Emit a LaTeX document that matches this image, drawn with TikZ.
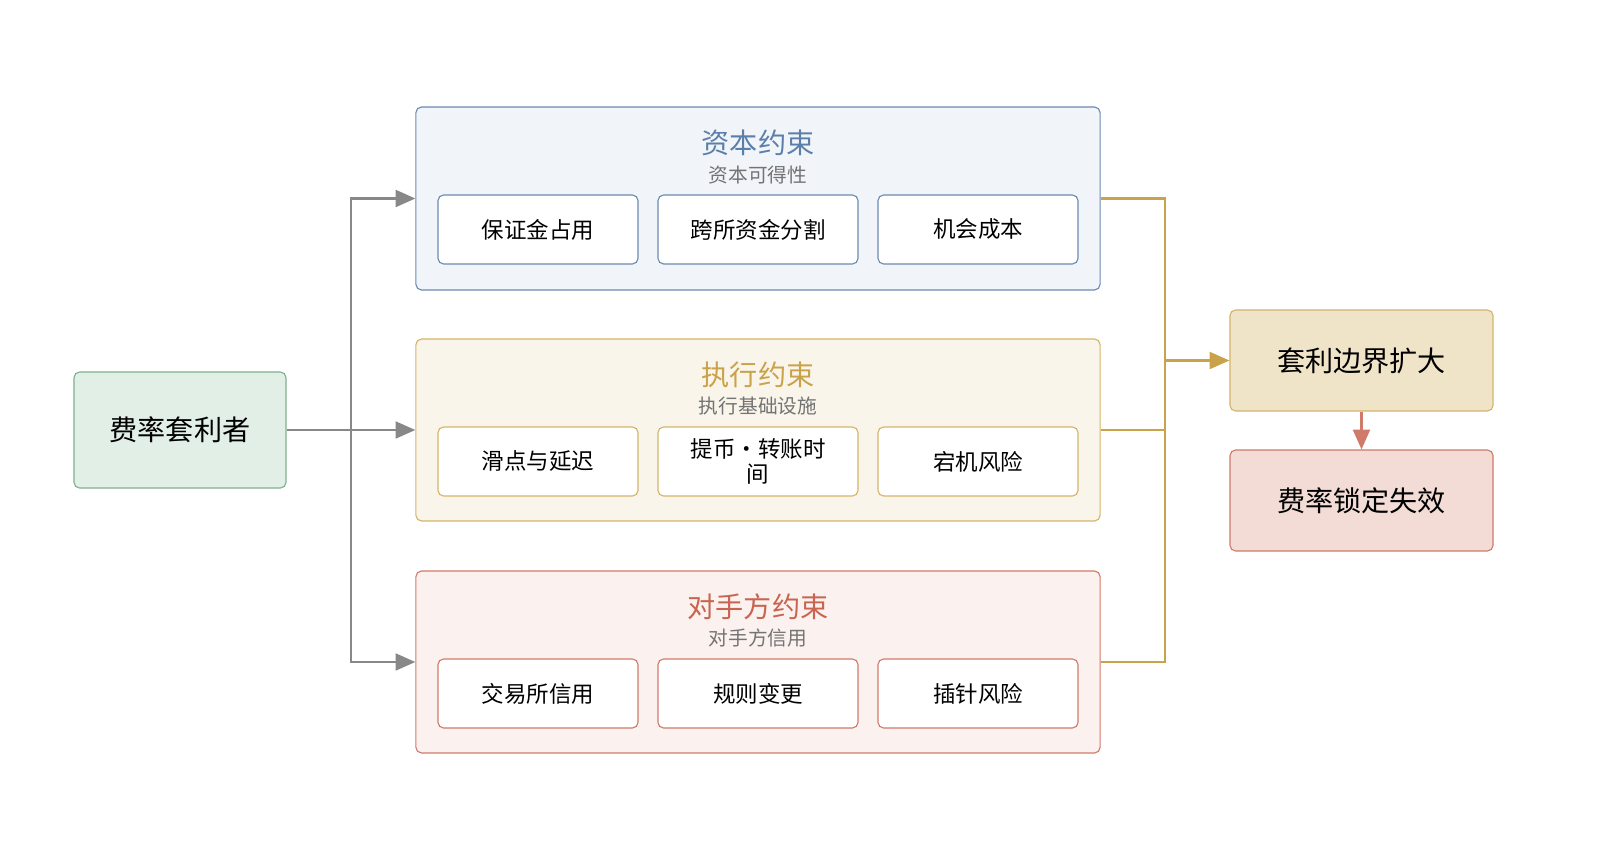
\documentclass[tikz,border=0pt]{standalone}
\usepackage{fontspec}
\setmainfont{Noto Sans CJK SC}
\usetikzlibrary{arrows.meta}
\definecolor{gfill}{HTML}{E2EFE6}\definecolor{gline}{HTML}{7FB08F}
\definecolor{bfill}{HTML}{F1F5FA}\definecolor{bline}{HTML}{6B8BB0}\definecolor{btext}{HTML}{5B7FA8}
\definecolor{yfill}{HTML}{FAF5EA}\definecolor{yline}{HTML}{D4B46A}\definecolor{ytext}{HTML}{C9A24A}
\definecolor{rfill}{HTML}{FBF1EE}\definecolor{rline}{HTML}{D07A6A}\definecolor{rtext}{HTML}{C86450}
\definecolor{ofill}{HTML}{F0E4C8}\definecolor{pfill}{HTML}{F2DCD5}
\definecolor{arr}{HTML}{888888}\definecolor{gold}{HTML}{C9A24A}
\begin{document}
\begin{tikzpicture}[x=0.025cm,y=-0.025cm,
 box/.style={draw,rounded corners=4pt,line width=0.8pt,inner sep=0pt},
 item/.style={box,fill=white,minimum width=5cm,minimum height=1.725cm,font=\fontsize{16}{18}\selectfont,align=center,text width=4cm},
 big/.style={box,font=\fontsize{20}{23}\selectfont},
 title/.style={font=\fontsize{20}{23}\selectfont},
 sub/.style={font=\fontsize{14}{16}\selectfont,text=black!55},
 tip/.style={-{Triangle[length=14pt,width=12pt]}},
 ga/.style={draw=arr,line width=1.6pt,tip},
 ya/.style={draw=gold,line width=1.6pt}]
\useasboundingbox (0,0) rectangle (1600,845);
\node[big,fill=gfill,draw=gline,minimum width=5.3cm,minimum height=2.9cm] (src) at (180,430) {费率套利者};
\node[box,fill=bfill,draw=bline,minimum width=17.1cm,minimum height=4.575cm] (g1) at (758,198.5) {};
\node[box,fill=yfill,draw=yline,minimum width=17.1cm,minimum height=4.55cm] (g2) at (758,430) {};
\node[box,fill=rfill,draw=rline,minimum width=17.1cm,minimum height=4.55cm] (g3) at (758,662) {};
\node[title,text=btext] (t1) at (758,143) {资本约束};
\node[sub] (s1) at (758,175) {资本可得性};
\node[title,text=ytext] (t2) at (758,375) {执行约束};
\node[sub] (s2) at (758,406) {执行基础设施};
\node[title,text=rtext] (t3) at (758,607) {对手方约束};
\node[sub] (s3) at (758,638) {对手方信用};
\node[item,draw=bline] (a1) at (538,229.5) {保证金占用};
\node[item,draw=bline] (a2) at (758,229.5) {跨所资金分割};
\node[item,draw=bline] (a3) at (978,229.5) {机会成本};
\node[item,draw=yline] (b1) at (538,461.5) {滑点与延迟};
\node[item,draw=yline] (b2) at (758,461.5) {提币・转账时\\间};
\node[item,draw=yline] (b3) at (978,461.5) {宕机风险};
\node[item,draw=rline] (c1) at (538,693.5) {交易所信用};
\node[item,draw=rline] (c2) at (758,693.5) {规则变更};
\node[item,draw=rline] (c3) at (978,693.5) {插针风险};
\node[big,fill=ofill,draw=yline,minimum width=6.575cm,minimum height=2.525cm] (o1) at (1361.5,360.5) {套利边界扩大};
\node[big,fill=pfill,draw=rline,minimum width=6.575cm,minimum height=2.525cm] (o2) at (1361.5,500.5) {费率锁定失效};
\coordinate (j) at (351,430);
\draw[ga] (src.east) -- (g2.west);
\draw[ga] (j) |- (g1.west);
\draw[ga] (j) |- (g3.west);
\coordinate (k) at (1165,360.5);
\draw[ya] (g1.east) -| (k);
\draw[ya] (g3.east) -| (k);
\draw[ya] (g2.east) -- (1165,430);
\draw[ya,tip] (k) -- (o1.west);
\draw[draw=rline,line width=1.6pt,tip] (o1.south) -- (o2.north);
\end{tikzpicture}
\end{document}
